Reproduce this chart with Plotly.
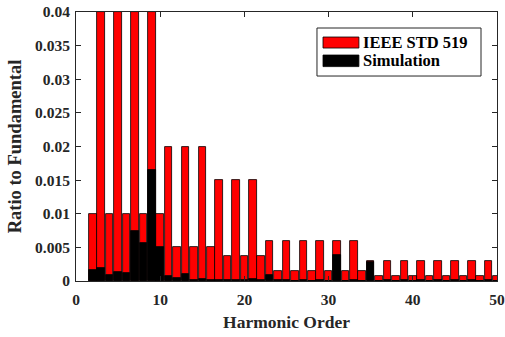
import plotly.graph_objects as go

# Harmonic orders and per-unit magnitudes (ratio to fundamental)
harmonics = list(range(2, 51))

# IEEE STD 519 current distortion limits
ieee_limits = [
    0.01, 0.04, 0.01, 0.04, 0.01, 0.04, 0.01, 0.04, 0.01,          # 2-10
    0.02, 0.005, 0.02, 0.005, 0.02, 0.005,                          # 11-16
    0.015, 0.00375, 0.015, 0.00375, 0.015, 0.00375,                 # 17-22
    0.006, 0.0015, 0.006, 0.0015, 0.006, 0.0015, 0.006, 0.0015,     # 23-30
    0.006, 0.0015, 0.006, 0.0015,                                   # 31-34
    0.003, 0.00075, 0.003, 0.00075, 0.003, 0.00075, 0.003, 0.00075, # 35-42
    0.003, 0.00075, 0.003, 0.00075, 0.003, 0.00075, 0.003, 0.00075, # 43-50
]

# Simulated harmonic spectrum
simulation = [
    0.0016, 0.0019, 0.00085, 0.0014, 0.00115, 0.0074, 0.0057, 0.0165, 0.0051,  # 2-10
    0.00075, 0.0004, 0.0011, 0.0002, 0.0003, 0.0001,                         # 11-16
    0.0002, 0.0001, 0.0002, 0.0001, 0.0003, 0.0001,                          # 17-22
    0.00085, 0.0001, 0.0001, 0.00005, 0.0002, 0.00005, 0.0002, 0.00005,      # 23-30
    0.0039, 0.00005, 0.0001, 0.00005,                                        # 31-34
    0.0029, 0.00005, 0.0001, 0.00005, 0.0001, 0.00005, 0.0001, 0.00005,      # 35-42
    0.0002, 0.00005, 0.0001, 0.00005, 0.0001, 0.00005, 0.0001, 0.00005,      # 43-50
]

x_ticks = [0, 10, 20, 30, 40, 50]
y_ticks = [0, 0.005, 0.01, 0.015, 0.02, 0.025, 0.03, 0.035, 0.04]
y_tick_text = ["0", "0.005", "0.01", "0.015", "0.02", "0.025", "0.03", "0.035", "0.04"]

FONT = "Liberation Serif"
AXIS_COLOR = "#262626"
BAR_WIDTH = 0.9


def axis_style():
    return dict(
        showgrid=False, zeroline=False, automargin=False,
        showline=True, linecolor=AXIS_COLOR, linewidth=1, mirror="ticks",
        ticks="inside", ticklen=5, tickcolor=AXIS_COLOR, tickwidth=1,
        tickfont=dict(family=FONT, size=15.5, color=AXIS_COLOR),
    )


fig = go.Figure()
fig.add_trace(go.Bar(
    x=harmonics, y=ieee_limits, name="IEEE STD 519",
    width=BAR_WIDTH, marker=dict(color="#ff0000", line=dict(color="#000000", width=0.8)),
    showlegend=False,
))
fig.add_trace(go.Bar(
    x=harmonics, y=simulation, name="Simulation",
    width=BAR_WIDTH, marker=dict(color="#000000", line=dict(color="#000000", width=0.8)),
    showlegend=False,
))

fig.update_layout(
    width=505, height=337,
    margin=dict(l=76, r=8, t=12, b=56, autoexpand=False),
    paper_bgcolor="white", plot_bgcolor="white",
    font=dict(family=FONT, color=AXIS_COLOR),
    barmode="overlay", bargap=0,
    xaxis=dict(
        range=[0, 50], tickvals=x_ticks,
        ticktext=[f"<b>{v}</b>" for v in x_ticks], ticklabelstandoff=4,
        title=dict(text="<b>Harmonic Order</b>", standoff=9,
                   font=dict(family=FONT, size=17.5, color=AXIS_COLOR)),
        **axis_style(),
    ),
    yaxis=dict(
        range=[0, 0.04], tickvals=y_ticks,
        ticktext=[f"<b>{t}</b>" for t in y_tick_text], ticklabelstandoff=2,
        title=dict(text="<b>Ratio to Fundamental</b>", standoff=8,
                   font=dict(family=FONT, size=18.5, color=AXIS_COLOR)),
        **axis_style(),
    ),
)

# Legend box with wide swatches
fig.add_shape(type="rect", xref="paper", yref="paper",
              x0=0.5724, x1=0.962, y0=0.762, y1=0.9405,
              line=dict(color=AXIS_COLOR, width=1), fillcolor="white", layer="above")
legend_items = [("IEEE STD 519", "#ff0000", 0.866, 0.907), ("Simulation", "#000000", 0.797, 0.840)]
for label, color, y0, y1 in legend_items:
    fig.add_shape(type="rect", xref="paper", yref="paper",
                  x0=0.5867, x1=0.672, y0=y0, y1=y1,
                  line=dict(color="#000000", width=0.8), fillcolor=color, layer="above")
    fig.add_annotation(xref="paper", yref="paper", x=0.677, y=(y0 + y1) / 2,
                       text=f"<b>{label}</b>", showarrow=False, xanchor="left", yanchor="middle",
                       font=dict(family=FONT, size=16.5, color="#000000"))

fig.write_html("out.html")
